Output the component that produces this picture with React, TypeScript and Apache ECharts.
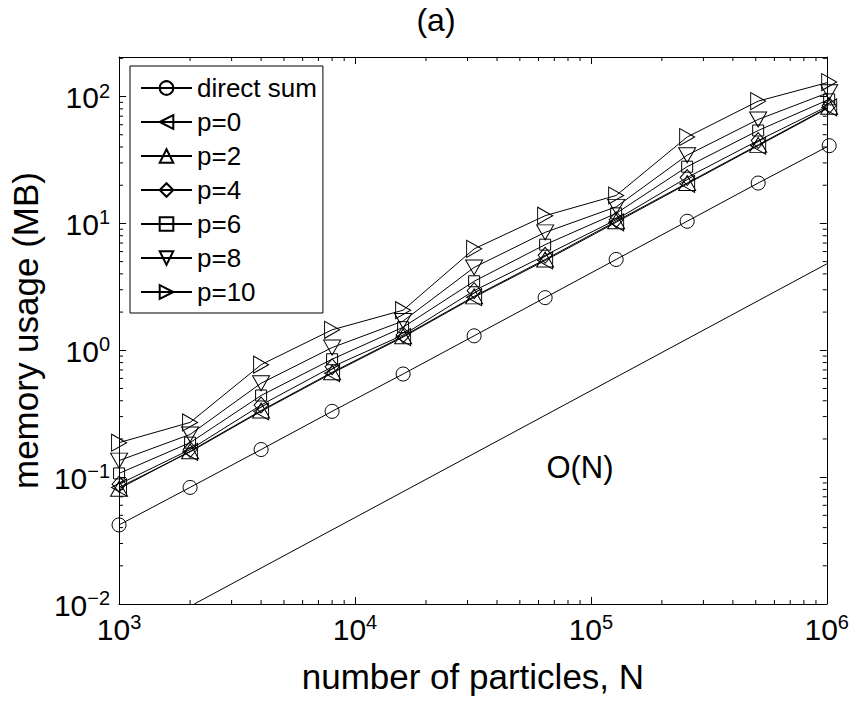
import React, { useEffect, useRef } from 'react';
import * as echarts from 'echarts';

// Number of particles (x values)
const N = [1000, 2000, 4000, 8000, 16000, 32000, 64000, 128000, 256000, 512000, 1024000];

// Memory usage (MB)
const directSum = [0.042, 0.083, 0.165, 0.33, 0.65, 1.3, 2.6, 5.2, 10.4, 20.8, 41];
const p0 = [0.083, 0.158, 0.33, 0.66, 1.27, 2.62, 5.1, 10.2, 20.5, 41, 82];
const p2 = [0.081, 0.16, 0.335, 0.67, 1.29, 2.66, 5.2, 10.4, 20.8, 41.6, 83];
const p4 = [0.088, 0.165, 0.37, 0.74, 1.32, 2.95, 5.6, 10.7, 23, 45, 85];
const p6 = [0.107, 0.187, 0.44, 0.85, 1.52, 3.5, 6.8, 12, 28, 54, 95];
const p8 = [0.135, 0.217, 0.55, 1.05, 1.7, 4.5, 8.5, 13.5, 34.5, 66, 108];
const p10 = [0.187, 0.27, 0.77, 1.45, 2.07, 6.3, 11.5, 16.6, 48, 92, 130];

// Reference O(N) line endpoints
const orderN_x = [2083, 1000000];
const orderN_y = [0.01, 4.8];

const seriesNames = ['direct sum', 'p=0', 'p=2', 'p=4', 'p=6', 'p=8', 'p=10'];
const seriesValues = [directSum, p0, p2, p4, p6, p8, p10];

const X_MIN = 1000;
const X_MAX = 1000000;
const Y_MIN = 0.01;
const Y_MAX = 205;

const FONT = '"Liberation Sans", Arial, Helvetica, sans-serif';

// minor tick positions for log axes (axis decoration)
const xMinor: number[] = [];
for (const d of [1e3, 1e4, 1e5]) for (let m = 2; m <= 9; m++) xMinor.push(m * d);
const yMinor: number[] = [];
for (const d of [1e-2, 1e-1, 1, 10, 100]) for (let m = 2; m <= 9; m++) if (m * d <= Y_MAX) yMinor.push(m * d);

const symbolDefs: any[] = [
  { symbol: 'circle', size: 14, rotate: 0 },
  { symbol: 'triangle', size: [17, 15], rotate: 90 },
  { symbol: 'triangle', size: [17, 15], rotate: 0 },
  { symbol: 'diamond', size: [14, 16], rotate: 0 },
  { symbol: 'rect', size: 11, rotate: 0 },
  { symbol: 'triangle', size: [17, 15], rotate: 180 },
  { symbol: 'triangle', size: [17, 15], rotate: -90 },
];

function powLabel(v: number) {
  const lg = Math.log10(v);
  const e = Math.round(lg);
  if (Math.abs(lg - e) > 1e-6) return '';
  const es = e < 0 ? '\u2212' + Math.abs(e) : String(e);
  return '{b|10}{e|' + es + '}';
}

const rich = {
  b: { fontSize: 30, fontFamily: FONT, color: '#000', lineHeight: 32, verticalAlign: 'bottom' },
  e: { fontSize: 20, fontFamily: FONT, color: '#000', lineHeight: 14, verticalAlign: 'top' },
};

export default function App() {
  const ref = useRef<HTMLDivElement>(null);
  useEffect(() => {
    document.body.style.margin = '0';
    const chart = echarts.init(ref.current as HTMLDivElement, null, { renderer: 'svg' });

    const dataSeries = seriesNames.map((name, i) => ({
      name,
      type: 'line',
      data: N.map((n, k) => [n, seriesValues[i][k]]),
      symbol: symbolDefs[i].symbol,
      symbolSize: symbolDefs[i].size,
      symbolRotate: symbolDefs[i].rotate,
      showAllSymbol: true,
      clip: false,
      silent: true,
      lineStyle: { color: '#000', width: 1 },
      itemStyle: { color: 'transparent', borderColor: '#000', borderWidth: 1 },
      emphasis: { disabled: true },
      z: 3,
    }));

    const tickStyle = { stroke: '#000', lineWidth: 1 };

    const option: any = {
      animation: false,
      textStyle: { fontFamily: FONT },
      grid: { left: 109, right: 21, top: 57, bottom: 100, containLabel: false },
      xAxis: [
        {
          type: 'log',
          logBase: 10,
          min: X_MIN,
          max: X_MAX,
          position: 'bottom',
          name: 'number of particles, N',
          nameLocation: 'middle',
          nameGap: 55,
          nameTextStyle: { fontSize: 35, fontFamily: FONT, color: '#000' },
          axisLine: { show: true, lineStyle: { color: '#000', width: 1 } },
          axisTick: { show: true, inside: true, length: 7, lineStyle: { color: '#000' } },
          axisLabel: { formatter: powLabel, rich, margin: 8, color: '#000' },
          splitLine: { show: false },
          minorTick: { show: false },
        },
        {
          type: 'log',
          logBase: 10,
          min: X_MIN,
          max: X_MAX,
          position: 'top',
          axisLine: { show: true, lineStyle: { color: '#000', width: 1 } },
          axisTick: { show: true, inside: true, length: 7, lineStyle: { color: '#000' } },
          axisLabel: { show: false },
          splitLine: { show: false },
        },
      ],
      yAxis: [
        {
          type: 'log',
          logBase: 10,
          min: Y_MIN,
          max: Y_MAX,
          position: 'left',
          name: 'memory usage (MB)',
          nameLocation: 'middle',
          nameGap: 62,
          nameRotate: 90,
          nameTextStyle: { fontSize: 35, fontFamily: FONT, color: '#000' },
          axisLine: { show: true, lineStyle: { color: '#000', width: 1 } },
          axisTick: { show: true, inside: true, length: 7, lineStyle: { color: '#000' } },
          axisLabel: { formatter: powLabel, rich, margin: 9, color: '#000' },
          splitLine: { show: false },
        },
        {
          type: 'log',
          logBase: 10,
          min: Y_MIN,
          max: Y_MAX,
          position: 'right',
          axisLine: { show: true, lineStyle: { color: '#000', width: 1 } },
          axisTick: { show: true, inside: true, length: 7, lineStyle: { color: '#000' } },
          axisLabel: { show: false },
          splitLine: { show: false },
        },
      ],
      legend: {
        data: seriesNames,
        orient: 'vertical',
        left: 130,
        top: 66,
        itemWidth: 51,
        itemHeight: 17,
        itemGap: 8,
        padding: [9, 6, 8, 10],
        borderColor: '#000',
        borderWidth: 1,
        borderRadius: 0,
        backgroundColor: '#fff',
        selectedMode: false,
        textStyle: { fontSize: 26, color: '#000', fontFamily: FONT, lineHeight: 26 },
      },
      graphic: [
        {
          type: 'text',
          x: 436,
          y: 20,
          style: { text: '(a)', font: '32px ' + FONT, fill: '#000', textAlign: 'center', textVerticalAlign: 'middle' },
        },
        {
          type: 'text',
          x: 580,
          y: 467,
          style: { text: 'O(N)', font: '31px ' + FONT, fill: '#000', textAlign: 'center', textVerticalAlign: 'middle' },
        },
      ],
      series: [
        ...dataSeries,
        {
          name: 'O(N)',
          type: 'line',
          data: orderN_x.map((x, i) => [x, orderN_y[i]]),
          symbol: 'none',
          clip: true,
          silent: true,
          lineStyle: { color: '#000', width: 1 },
          emphasis: { disabled: true },
          z: 2,
        },
        {
          name: 'xMinor',
          type: 'custom',
          silent: true,
          data: xMinor.map((v) => [v, 1]),
          renderItem: (params: any, api: any) => {
            const x = api.coord([api.value(0), api.value(1)])[0];
            const cs = params.coordSys;
            const yb = cs.y + cs.height;
            return {
              type: 'group',
              children: [
                { type: 'line', shape: { x1: x, y1: yb, x2: x, y2: yb - 4 }, style: tickStyle },
                { type: 'line', shape: { x1: x, y1: cs.y, x2: x, y2: cs.y + 4 }, style: tickStyle },
              ],
            };
          },
          z: 5,
        },
        {
          name: 'yMinor',
          type: 'custom',
          silent: true,
          data: yMinor.map((v) => [10000, v]),
          renderItem: (params: any, api: any) => {
            const y = api.coord([api.value(0), api.value(1)])[1];
            const cs = params.coordSys;
            const xr = cs.x + cs.width;
            return {
              type: 'group',
              children: [
                { type: 'line', shape: { x1: cs.x, y1: y, x2: cs.x + 4, y2: y }, style: tickStyle },
                { type: 'line', shape: { x1: xr, y1: y, x2: xr - 4, y2: y }, style: tickStyle },
              ],
            };
          },
          z: 5,
        },
      ],
    };

    chart.setOption(option);
    return () => chart.dispose();
  }, []);
  return <div ref={ref} style={{ width: 852, height: 704 }} />;
}
